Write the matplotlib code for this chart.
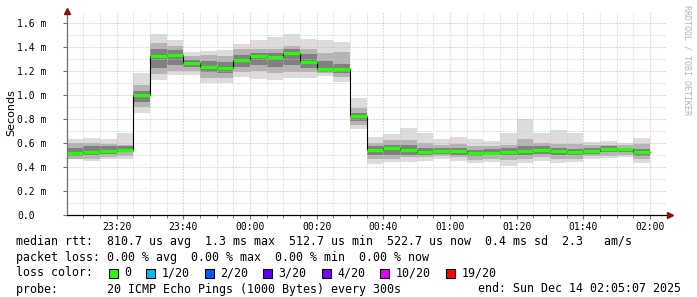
"""
SmokePing style latency graph: 3 hours of 20 x ICMP ping, median + smoke.
"""
import numpy as np
import matplotlib
matplotlib.use("Agg")
import matplotlib.pyplot as plt
from matplotlib.patches import Rectangle

# ── Data (ms) ─────────────────────────────────────────────────────────────────
BIN_TIMES = ["23:05", "23:10", "23:15", "23:20", "23:25", "23:30", "23:35",
             "23:40", "23:45", "23:50", "23:55", "00:00", "00:05", "00:10",
             "00:15", "00:20", "00:25", "00:30", "00:35", "00:40", "00:45",
             "00:50", "00:55", "01:00", "01:05", "01:10", "01:15", "01:20",
             "01:25", "01:30", "01:35", "01:40", "01:45", "01:50", "01:55"]

MEDIAN = [0.513, 0.524, 0.535, 0.541, 0.998, 1.320, 1.334, 1.267, 1.229,
          1.220, 1.287, 1.323, 1.315, 1.350, 1.275, 1.212, 1.215, 0.821,
          0.541, 0.557, 0.541, 0.527, 0.530, 0.532, 0.513, 0.518, 0.524,
          0.535, 0.538, 0.535, 0.524, 0.535, 0.552, 0.549, 0.523]

SMOKE_LO = [0.463, 0.449, 0.463, 0.463, 0.851, 1.123, 1.162, 1.162, 1.100,
            1.100, 1.148, 1.131, 1.123, 1.142, 1.142, 1.156, 1.104, 0.715,
            0.424, 0.443, 0.443, 0.449, 0.466, 0.449, 0.435, 0.443, 0.410,
            0.433, 0.449, 0.433, 0.443, 0.466, 0.477, 0.485, 0.433]
SMOKE_HI = [0.635, 0.643, 0.632, 0.685, 1.184, 1.503, 1.456, 1.359, 1.364,
            1.375, 1.425, 1.456, 1.483, 1.503, 1.464, 1.456, 1.439, 0.976,
            0.651, 0.674, 0.726, 0.685, 0.635, 0.651, 0.635, 0.618, 0.685,
            0.799, 0.685, 0.707, 0.685, 0.607, 0.618, 0.596, 0.643]

BAND_LO = [0.47, 0.47, 0.48, 0.49, 0.90, 1.17, 1.20, 1.20, 1.14, 1.14, 1.19,
           1.20, 1.18, 1.19, 1.19, 1.18, 1.15, 0.75, 0.47, 0.47, 0.48, 0.48,
           0.49, 0.48, 0.46, 0.47, 0.46, 0.47, 0.48, 0.47, 0.47, 0.49, 0.49,
           0.50, 0.47]
BAND_HI = [0.60, 0.60, 0.59, 0.58, 1.08, 1.43, 1.41, 1.32, 1.33, 1.32, 1.38,
           1.38, 1.38, 1.41, 1.38, 1.35, 1.36, 0.89, 0.60, 0.62, 0.62, 0.60,
           0.58, 0.59, 0.57, 0.57, 0.58, 0.63, 0.60, 0.59, 0.59, 0.58, 0.58,
           0.58, 0.59]

CORE_LO = [0.49, 0.50, 0.51, 0.52, 0.94, 1.22, 1.25, 1.23, 1.19, 1.18, 1.23,
           1.25, 1.23, 1.25, 1.22, 1.19, 1.18, 0.78, 0.50, 0.50, 0.50, 0.50,
           0.51, 0.50, 0.49, 0.50, 0.50, 0.50, 0.51, 0.50, 0.50, 0.51, 0.52,
           0.52, 0.49]
CORE_HI = [0.56, 0.57, 0.57, 0.57, 1.03, 1.38, 1.37, 1.29, 1.28, 1.27, 1.33,
           1.35, 1.35, 1.38, 1.34, 1.28, 1.26, 0.85, 0.57, 0.58, 0.58, 0.56,
           0.56, 0.56, 0.54, 0.55, 0.56, 0.57, 0.57, 0.56, 0.55, 0.56, 0.57,
           0.56, 0.55]

X_TICKS = ["23:20", "23:40", "00:00", "00:20", "00:40", "01:00", "01:20",
           "01:40", "02:00"]
Y_TICKS = [0.0, 0.2, 0.4, 0.6, 0.8, 1.0, 1.2, 1.4, 1.6]
Y_LABELS = ["0.0", "0.2 m", "0.4 m", "0.6 m", "0.8 m", "1.0 m", "1.2 m",
            "1.4 m", "1.6 m"]

LOSS_LABELS = ["0", "1/20", "2/20", "3/20", "4/20", "10/20", "19/20"]
LOSS_COLORS = ["#26ff00", "#00b8ff", "#0059ff", "#5e00ff", "#7e00ff",
               "#dd00ff", "#ff0000"]

LEGEND_LINES = [
    "median rtt:  810.7 us avg  1.3 ms max  512.7 us min  522.7 us now  0.4 ms sd  2.3   am/s",
    "packet loss: 0.00 % avg  0.00 % max  0.00 % min  0.00 % now",
    "loss color:",
    "probe:       20 ICMP Echo Pings (1000 Bytes) every 300s",
]
END_TEXT = "end: Sun Dec 14 02:05:07 2025"

START_MIN = 5 + 7 / 60       # 23:05:07
STEP = 5


def to_min(t):
    """minutes after 23:00 (wrapping past midnight)"""
    h, m = map(int, t.split(":"))
    return (h * 60 + m - 23 * 60) % (24 * 60)


# ── Figure ────────────────────────────────────────────────────────────────────
W, H = 697, 297
fig = plt.figure(figsize=(W / 100, H / 100), dpi=100)
fig.patch.set_facecolor("white")
ax = fig.add_axes([67 / W, (H - 215) / H, 600 / W, 204 / H])
ax.set_facecolor("white")

starts = np.array([to_min(t) for t in BIN_TIMES], dtype=float)
ends = starts + STEP

# smoke layers
for lo, hi, col in [(SMOKE_LO, SMOKE_HI, "#dcdcdc"),
                    (BAND_LO, BAND_HI, "#b4b4b4"),
                    (CORE_LO, CORE_HI, "#808080")]:
    lo = np.array(lo)
    hi = np.array(hi)
    ax.bar(starts, hi - lo, width=STEP, bottom=lo, align="edge",
           color=col, linewidth=0, zorder=1)

# grid (rrdtool style dotted)
xmin, xmax = START_MIN, START_MIN + 180
ymax = 1.697
for v in np.arange(1, 17) / 10:
    major = int(round(v * 10)) % 2 == 0
    ax.axhline(v, color="#e8a8a8" if major else "#c8c8c8", lw=0.72,
               ls=(0, (1, 2)), zorder=2)
for m in range(10, 186, 5):
    major = m % 20 == 0
    ax.axvline(m, color="#e8a8a8" if major else "#c8c8c8", lw=0.72,
               ls=(0, (1, 2)), zorder=2)

# median line
med = np.array(MEDIAN)
edges = np.append(starts, ends[-1])
ax.stairs(med, edges, baseline=None, color="black", lw=0.8, zorder=3)
ax.hlines(med, starts, ends, color=LOSS_COLORS[0], lw=2.3, zorder=4)

ax.set_xlim(xmin, xmax)
ax.set_ylim(0, ymax)

for side in ["top", "right"]:
    ax.spines[side].set_visible(False)
ax.spines["left"].set_color("#707070")
ax.spines["bottom"].set_color("black")
ax.spines["left"].set_linewidth(0.9)
ax.spines["bottom"].set_linewidth(0.9)

ax.set_xticks([to_min(t) for t in X_TICKS])
ax.set_xticklabels(X_TICKS, family="DejaVu Sans Mono", fontsize=7)
ax.set_xticks(range(10, 186, 5), minor=True)
ax.tick_params(axis="x", which="major", length=3, pad=2, color="#707070")
ax.tick_params(axis="x", which="minor", length=2, color="#707070")

ax.set_yticks(Y_TICKS)
ax.set_yticklabels(Y_LABELS, family="DejaVu Sans Mono", fontsize=7)
for lab in ax.get_yticklabels():
    lab.set_horizontalalignment("left")
ax.tick_params(axis="y", length=3, pad=33, color="#707070")

ax.set_ylabel("Seconds", fontsize=8, labelpad=0)
ax.yaxis.set_label_coords(-(67 - 16) / 600, 0.5)

# axis arrows
ax.plot([0], [1.0], marker="^", color="#8a1010", ms=4, transform=ax.transAxes,
        clip_on=False, zorder=6)
ax.plot([1.005], [0], marker=">", color="#8a1010", ms=4,
        transform=ax.transAxes, clip_on=False, zorder=6)

# watermark
fig.text(687 / W, 1 - 5 / H, "RRDTOOL / TOBI OETIKER", rotation=270,
         ha="center", va="top", fontsize=6, color="#b4b4b4",
         family="DejaVu Sans Mono")

# legend text
mono = dict(family="DejaVu Sans Mono", fontsize=8.4, va="center", ha="left")
for i, line in enumerate(LEGEND_LINES):
    fig.text(16 / W, 1 - (241 + 16 * i) / H, line, **mono)
fig.text(681 / W, 1 - 289 / H, END_TEXT, family="DejaVu Sans Mono",
         fontsize=8.4, va="center", ha="right")

# loss colour boxes
cw = 7.02
bx = 108.5
by = 273
for lab, col in zip(LOSS_LABELS, LOSS_COLORS):
    fig.patches.append(Rectangle((bx / W, 1 - (by + 4.5) / H), 9 / W, 9 / H,
                                 facecolor=col, edgecolor="black", lw=0.8,
                                 transform=fig.transFigure, figure=fig))
    fig.text((bx + 15.5) / W, 1 - by / H, lab, **mono)
    bx += 15.5 + len(lab) * cw + 15

fig.savefig("out.png", dpi=100)
